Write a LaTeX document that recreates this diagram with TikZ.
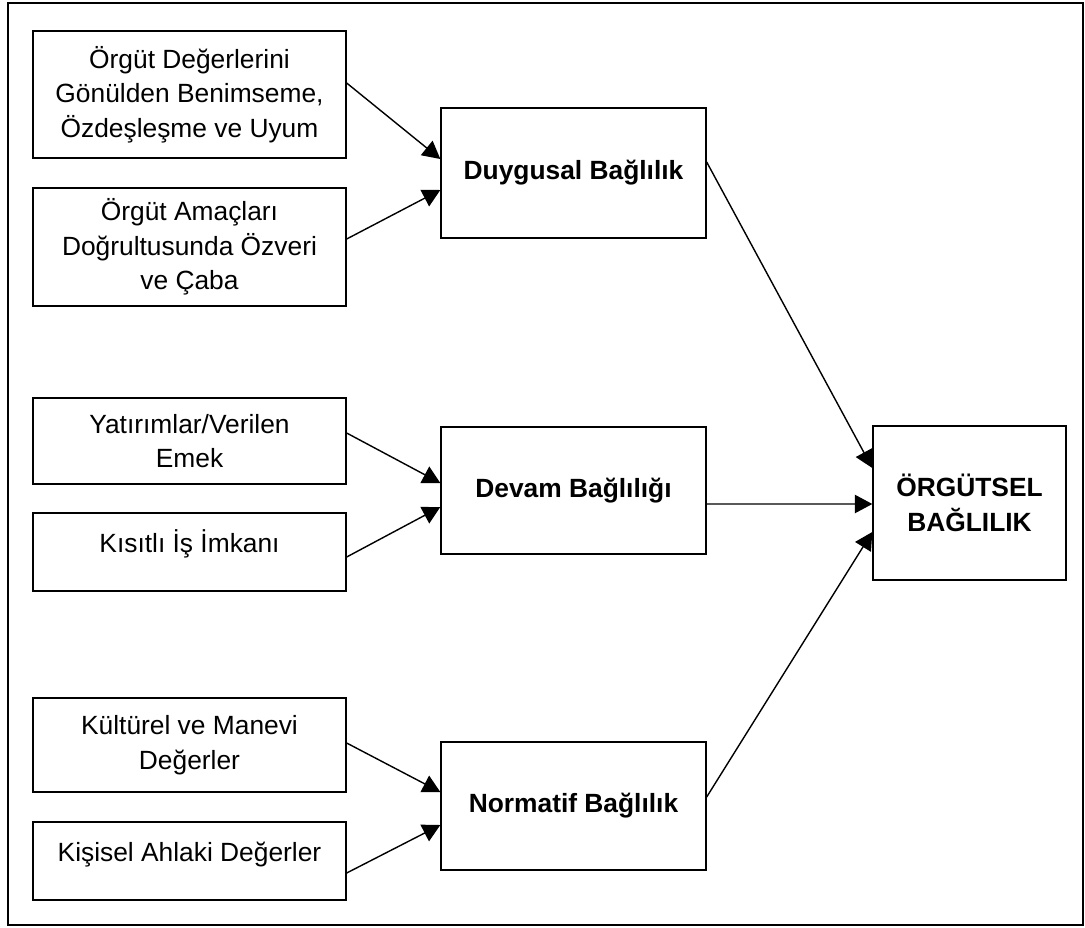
\documentclass[tikz,border=0pt]{standalone}
\usepackage{fontspec}
\setmainfont{Liberation Sans}
\usetikzlibrary{arrows.meta}
\tikzset{
  box/.style = {draw, line width=0.8pt, align=center, inner sep=0pt, font=\fontsize{15pt}{19.6pt}\selectfont},
  LeftBox/.style = {box, minimum width=6.26cm},
  MidBox/.style = {box, minimum width=5.3cm, font=\fontsize{15pt}{19.6pt}\selectfont\bfseries},
  MainBox/.style = {box, minimum width=3.86cm, minimum height=3.08cm, font=\fontsize{15pt}{19.6pt}\selectfont\bfseries},
  OneLine/.style = {text height=11.3pt, text depth=10.5pt}
}
\begin{document}
\begin{tikzpicture}[x=0.02cm, y=-0.02cm, ->, >={Triangle[length=10pt,width=10.5pt]}, line width=0.8pt]
  \useasboundingbox (0,0) rectangle (1085,927);
  \draw[-] (8,3) rectangle (1083,925);

  \node [LeftBox, minimum height=2.54cm] (deger) at (189.5,94.5) {Örgüt Değerlerini\\Gönülden Benimseme,\\Özdeşleşme ve Uyum};
  \node [LeftBox, minimum height=2.36cm] (amac) at (189.5,247) {Örgüt Amaçları\\Doğrultusunda Özveri\\ve Çaba};
  \node [LeftBox, minimum height=1.72cm] (yatirim) at (189.5,441) {Yatırımlar/Verilen\\Emek};
  \node [LeftBox, OneLine, minimum height=1.56cm] (kisitli) at (189.5,552) {Kısıtlı İş İmkanı};
  \node [LeftBox, minimum height=1.88cm] (kultur) at (189.5,745) {Kültürel ve Manevi\\Değerler};
  \node [LeftBox, OneLine, minimum height=1.56cm] (ahlak) at (189.5,861) {Kişisel Ahlaki Değerler};

  \node [MidBox, minimum height=2.6cm] (duygusal) at (573.5,173) {Duygusal Bağlılık};
  \node [MidBox, minimum height=2.54cm] (devam) at (573.5,490.5) {Devam Bağlılığı};
  \node [MidBox, minimum height=2.56cm] (normatif) at (573.5,806) {Normatif Bağlılık};

  \node [MainBox] (orgutsel) at (969.5,503) {ÖRGÜTSEL\\BAĞLILIK};

  \draw ([yshift=0.23cm]deger.east) -- ([yshift=0.28cm]duygusal.west);
  \draw ([yshift=0.16cm]amac.east) -- ([yshift=-0.34cm]duygusal.west);
  \draw ([yshift=0.16cm]yatirim.east) -- ([yshift=0.15cm]devam.west);
  \draw ([yshift=-0.1cm]kisitli.east) -- ([yshift=-0.33cm]devam.west);
  \draw ([yshift=0.04cm]kultur.east) -- ([yshift=0.28cm]normatif.west);
  \draw ([yshift=-0.24cm]ahlak.east) -- ([yshift=-0.38cm]normatif.west);

  \draw ([yshift=0.22cm]duygusal.east) -- ([yshift=0.7cm]orgutsel.west);
  \draw ([yshift=-0.27cm]devam.east) -- ([yshift=-0.02cm]orgutsel.west);
  \draw ([yshift=0.18cm]normatif.east) -- ([yshift=-0.58cm]orgutsel.west);
\end{tikzpicture}
\end{document}
